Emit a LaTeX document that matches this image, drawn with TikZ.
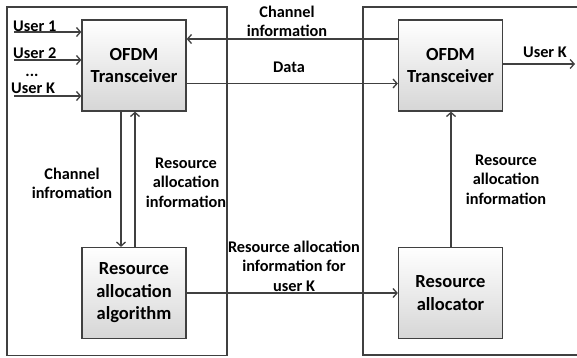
\documentclass[tikz,border=0pt]{standalone}
\usepackage{fontspec}
\setmainfont{Carlito}
\usetikzlibrary{arrows.meta}
\definecolor{ln}{HTML}{404040}
\tikzset{
  blk/.style={draw=ln, line width=1.3pt, top color=white, bottom color=black!16,
    minimum width=104pt, minimum height=91pt, align=center, inner sep=0pt,
    font=\fontsize{18.5}{22.5}\selectfont\bfseries},
  outer/.style={draw=ln, line width=1.2pt},
  conn/.style={draw=ln, line width=1.3pt},
  arr/.style={conn, -{Straight Barb[length=4pt,width=9pt,line width=1.3pt]}},
  lbl/.style={align=center, inner sep=0pt, font=\fontsize{16.3}{19.5}\selectfont\bfseries},
}
\begin{document}
\begin{tikzpicture}[x=1pt,y=-1pt]
\useasboundingbox (0,0) rectangle (577,357);
\begin{scope}
\clip (0,0) rectangle (577,357);
\draw[outer] (7,7) rectangle (227,355.5);
\draw[outer] (590,7) -- (363,7) -- (363,355) -- (590,355);
\end{scope}
\node[blk] (ofdmL) at (134,65.5) {OFDM\\Transceiver};
\node[blk] (ofdmR) at (450.5,65.5) {OFDM\\Transceiver};
\node[blk] (raa) at (134,293) {Resource\\allocation\\algorithm};
\node[blk] (ra) at (450.5,293) {Resource\\allocator};
% user inputs
\coordinate (u1) at (14,32);
\coordinate (u2) at (14,60);
\coordinate (uk) at (14,96);
\draw[arr] (u1) -- (u1 -| ofdmL.west);
\draw[arr] (u2) -- (u2 -| ofdmL.west);
\draw[arr] (uk) -- (uk -| ofdmL.west);
\node[lbl, anchor=west] (l1) at (13,26) {User 1};
\node[lbl, anchor=west] (l2) at (13,53) {User 2};
\node[lbl, anchor=base] (ldots) at (32,76) {...};
\node[lbl, anchor=west] (lk) at (11,88) {User K};
% channel info and data
\coordinate (ci) at (0,39);
\coordinate (da) at (0,83.5);
\draw[arr] (ci -| ofdmR.west) -- (ci -| ofdmL.east);
\draw[arr] (da -| ofdmL.east) -- (da -| ofdmR.west);
\node[lbl] (lci) at (287,21.5) {Channel\\information};
\node[lbl] (lda) at (289,67) {Data};
% user K out
\coordinate (uo) at (575,64);
\draw[arr] (uo -| ofdmR.east) -- (uo);
\node[lbl] (luo) at (545,52) {User K};
% left verticals
\coordinate (vd) at (121,0);
\coordinate (vu) at (135,0);
\draw[arr] (vd |- ofdmL.south) -- (vd |- raa.north);
\draw[arr] (vu |- raa.north) -- (vu |- ofdmL.south);
\node[lbl] (lch) at (72,183.5) {Channel\\infromation};
\node[lbl] (lrai) at (186,182.5) {Resource\\allocation\\information};
% right vertical
\coordinate (vr) at (451,0);
\draw[arr] (vr |- ra.north) -- (vr |- ofdmR.south);
\node[lbl] (lrar) at (506,179.5) {Resource\\allocation\\information};
% bottom
\coordinate (bt) at (0,293);
\draw[arr] (bt -| raa.east) -- (bt -| ra.west);
\node[lbl] (lbt) at (294,266) {Resource allocation\\information for\\user K};
\end{tikzpicture}
\end{document}
